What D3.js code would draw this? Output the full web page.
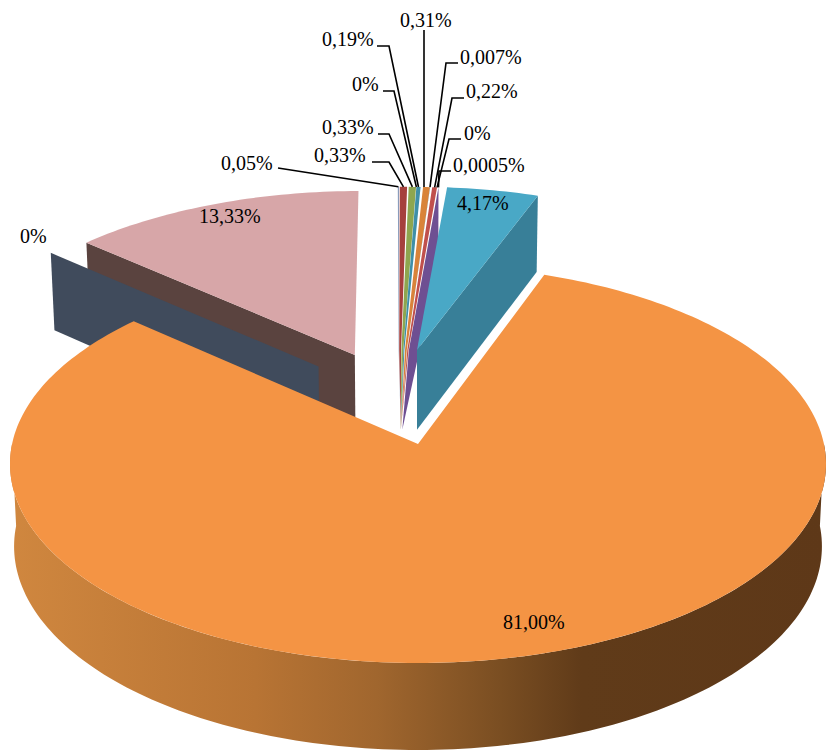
<!DOCTYPE html>
<html><head><meta charset="utf-8">
<script src="https://cdn.jsdelivr.net/npm/d3@7/dist/d3.min.js"></script>
<style>html,body{margin:0;padding:0;background:#fff}svg{display:block}text{font-family:"Liberation Serif",serif;font-size:20px;fill:#000}</style>
</head><body><svg id="c" width="827" height="751"></svg>
<script>
// ---- data, clockwise from the right edge of the large slice
const categories = ["s12","s13","s14","s1","s2","s3","s4","s5","s6","s7","s8","s9","s10","s11"];
const values = [81.00,0,13.33,0.05,0.33,0.33,0,0.19,0.31,0.007,0.22,0,0.0005,4.17];
const labels = ["81,00%","0%","13,33%","0,05%","0,33%","0,33%","0%","0,19%","0,31%","0,007%","0,22%","0%","0,0005%","4,17%"];
const colors = ["#f49444","#3f4a5c","#d7a6a8","#7f93b5","#a5403d","#8ea64f","#75589a","#3f8fa8","#d9833a","#2c4d75","#c0504d","#5f7530","#74509a","#49a8c6"];
const wallColors = ["#a0652f","#404b5c","#5a433f","#5f6f8c","#7b2f2d","#6a7c3a","#5f4880","#2f6d80","#a4632b","#223a58","#90403c","#47571f","#6e4f92","#387f98"];
// ---- layout (not data)
const explode = [[0,0],[-.255,-.41],[-.163,-.474],[-.052,-.502],[-.0495,-.502],[-.045,-.502],[-.044,-.502],[-.044,-.502],[-.037,-.502],[-.037,-.502],[-.031,-.502],[-.031,-.502],[-.027,-.502],[-.0026,-.502]];
const smallApex = [-.045,-.502], wallApex = [-.041,-.502];
const labelPos = [[503,629],[20,243],[199,223],[221,170],[314,162],[322,134],[352,91],[322,46],[400,27],[460,64],[466,98],[464,140],[453,172],[457,210]];
const elbows = [null,null,null,[278,168],[372,162,389,162],[378,134,389,134],[383,91,394,91],[377,46,389,46],[424,30],[458,63,446,63],[464,98,452,98],[461,139,449,139],[451,171,439,171],null];

const svg = d3.select("#c");
const defs = svg.append("defs");
const grad = defs.append("linearGradient").attr("id","wall").attr("gradientUnits","userSpaceOnUse")
  .attr("x1",10).attr("x2",827).attr("y1",0).attr("y2",0);
[[0,"#d0873f"],[.3,"#b87434"],[.45,"#a0662e"],[.6,"#7a4e22"],[.7,"#603b19"],[1,"#5e3818"]].forEach(s=>
  grad.append("stop").attr("offset",s[0]).attr("stop-color",s[1]));

const xScale = d3.scaleLinear().domain([-1,1]).range([10,826]);
const yScale = d3.scaleLinear().domain([-1,1]).range([265,663]);
const depth = d3.scaleLinear().domain([190,663]).range([76,87]);
const k = -0.1, kx = Math.sqrt(1-k*k);

function project(u,v){ const d=1+k*v; return [xScale(u*kx/d), yScale((v+k)/d)]; }
function bottom(p){ return [418+(p[0]-418)*0.99, p[1]+depth(p[1])]; }

const pie = d3.pie().sort(null).value(d=>d)
  .startAngle(19.9*Math.PI/180).endAngle((19.9+360)*Math.PI/180);
const arcs = pie(values);

const rim = (i,a)=>project(explode[i][0]+Math.sin(a), explode[i][1]-Math.cos(a));
const apex = i=>project(explode[i][0],explode[i][1]);
function arcPts(i,a0,a1){ const n=Math.max(2,Math.ceil((a1-a0)/0.02)); return d3.range(n+1).map(j=>rim(i,a0+(a1-a0)*j/n)); }
const line = d3.line();
const poly = pts=>line(pts)+"Z";

const g = svg.append("g");
function drawWallRadial(i,a){ const A=apex(i),R=rim(i,a);
  g.append("path").attr("d",poly([A,R,bottom(R),bottom(A)])).attr("fill",wallColors[i]); }
function drawTop(i){ const a=arcs[i];
  if(a.endAngle-a.startAngle<1e-4) return;
  g.append("path").attr("d",poly([apex(i),...arcPts(i,a.startAngle,a.endAngle)])).attr("fill",colors[i]); }

// the small slices narrow to a waist where the pie centre sits, then to a common tip on the lower plane
const waistY = project(smallApex[0],smallApex[1])[1];
const waist = p=>[398+(p[0]-395)*0.25, waistY];
const tip = bottom(project(smallApex[0],smallApex[1]));
function drawSmall(i){ const a=arcs[i];
  if(a.endAngle-a.startAngle<1e-4) return;
  const pts=arcPts(i,a.startAngle,a.endAngle);
  g.append("path").attr("d",poly([...pts,waist(pts[pts.length-1]),tip,waist(pts[0])])).attr("fill",colors[i]); }

const smalls = d3.range(3,13);
// pink wall + top
drawWallRadial(2,arcs[2].startAngle); drawTop(2);
// zero slice wall
drawWallRadial(1,arcs[1].startAngle);
// small slices: last wall, then faces
{ const R=rim(12,arcs[12].endAngle), B=bottom(project(wallApex[0],wallApex[1]));
  g.append("path").attr("d",poly([R,bottom(R),B,waist(R)])).attr("fill",wallColors[12]); }
smalls.forEach(drawSmall);
// blue
drawWallRadial(13,arcs[13].endAngle); drawTop(13);
// orange: outer wall then top
const oa=arcs[0];
const front=arcPts(0,Math.PI/2,Math.min(oa.endAngle,3*Math.PI/2));
g.append("path").attr("d",poly([...front,...front.map(bottom).reverse()])).attr("fill","url(#wall)");
drawTop(0);

// leader lines
arcs.forEach((a,i)=>{ const e=elbows[i]; if(!e) return;
  const R=rim(i,(a.startAngle+a.endAngle)/2);
  const pts=[]; for(let j=0;j<e.length;j+=2) pts.push([e[j],e[j+1]]);
  pts.push(i===8?[e[0],R[1]]:R);
  g.append("path").attr("d",line(pts)).attr("fill","none").attr("stroke","#000").attr("stroke-width",1.6);
});
// labels
svg.append("g").selectAll("text").data(labels).join("text")
  .attr("x",(d,i)=>labelPos[i][0]).attr("y",(d,i)=>labelPos[i][1]).text(d=>d);
</script></body></html>
